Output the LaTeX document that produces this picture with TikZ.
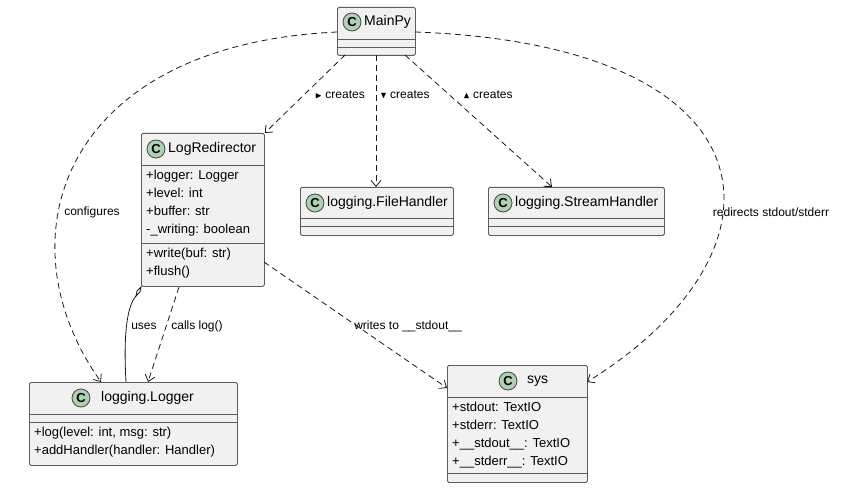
\documentclass[tikz,border=0pt]{standalone}
\usepackage{amssymb}
\usepackage{fontspec}
\setmainfont{Liberation Sans}
\usetikzlibrary{arrows.meta,calc}
\definecolor{boxfill}{HTML}{F1F1F1}
\definecolor{boxline}{HTML}{181818}
\definecolor{cfill}{HTML}{ADD1B2}
\tikzset{
  box/.style={draw=boxline!70, fill=boxfill, rounded corners=1.5pt, line width=0.8pt, anchor=north west, inner sep=0pt},
  sep/.style={draw=boxline!70, line width=0.8pt},
  circ/.style={circle, draw=boxline!80, fill=cfill, minimum size=18pt, inner sep=0pt, font=\fontsize{13}{13}\selectfont\bfseries, line width=0.8pt},
  title/.style={anchor=west, inner sep=0pt, font=\fontsize{14}{16}\selectfont},
  mem/.style={anchor=north west, inner sep=0pt, align=left, font=\fontsize{13}{18}\selectfont},
  dep/.style={dash pattern=on 6pt off 4pt, line width=0.8pt, draw=boxline, -{Straight Barb[length=6pt,width=10pt]}},
  lab/.style={font=\fontsize{12}{14}\selectfont, inner sep=1pt},
}
\begin{document}
\begin{tikzpicture}[x=1pt,y=-1pt]
\useasboundingbox (0,0) rectangle (843,489);
% MainPy
\node[box, minimum width=78pt, minimum height=48pt] (main) at (337,7) {};
\draw[sep] (337,39) -- (415,39) (337,47) -- (415,47);
\node[circ] (mainc) at (352,22) {C};
\node[title] (maint) at (364,22) {MainPy};
% LogRedirector
\node[box, minimum width=123pt, minimum height=153pt] (lr) at (141,133) {};
\draw[sep] (141,165) -- (264,165) (141,243) -- (264,243);
\node[circ] (lrc) at (156,149) {C};
\node[title] (lrt) at (168,149) {LogRedirector};
\node[mem] (lra) at (146,170) {+logger: Logger\\+level: int\\+buffer: str\\-\_writing: boolean};
\node[mem] (lrm) at (146,248) {+write(buf: str)\\+flush()};
% FileHandler
\node[box, minimum width=153pt, minimum height=48pt] (fh) at (300,187) {};
\draw[sep] (300,218) -- (453,218) (300,226) -- (453,226);
\node[circ] (fhc) at (315,203) {C};
\node[title] (fht) at (327,203) {logging.FileHandler};
% StreamHandler
\node[box, minimum width=176pt, minimum height=48pt] (sh) at (488,187) {};
\draw[sep] (488,218) -- (664,218) (488,226) -- (664,226);
\node[circ] (shc) at (503,203) {C};
\node[title] (sht) at (515,203) {logging.StreamHandler};
% Logger
\node[box, minimum width=208pt, minimum height=83pt] (lg) at (29,382) {};
\draw[sep] (29,414) -- (237,414) (29,422) -- (237,422);
\node[circ] (lgc) at (81,398) {C};
\node[title] (lgt) at (101,398) {logging.Logger};
\node[mem] (lgm) at (34,427) {+log(level: int, msg: str)\\+addHandler(handler: Handler)};
% sys
\node[box, minimum width=140pt, minimum height=117pt] (sys) at (447,365) {};
\draw[sep] (447,397) -- (587,397) (447,473) -- (587,473);
\node[circ] (sysc) at (508,381) {C};
\node[title] (syst) at (527,381) {sys};
\node[mem] (sysa) at (452,402) {+stdout: TextIO\\+stderr: TextIO\\+\_\_stdout\_\_: TextIO\\+\_\_stderr\_\_: TextIO};
% edges
\coordinate (m1) at (345,55);
\coordinate (m2) at (376,55);
\coordinate (m3) at (405,55);
\coordinate (mL) at (337,32);
\coordinate (mR) at (415,32);
\draw[dep] (m1) -- (lr.north east);
\node[lab] (l1) at (340,95) {{\fontsize{9}{9}\selectfont$\blacktriangleright$} creates};
\draw[dep] (m2) -- (376,187);
\node[lab] (l2) at (405,95) {{\fontsize{9}{9}\selectfont$\blacktriangledown$} creates};
\draw[dep] (m3) -- (552,187);
\node[lab] (l3) at (488,95) {{\fontsize{9}{9}\selectfont$\blacktriangle$} creates};
\draw[dep] (mL) .. controls (60,45) and (0,240) .. (101,382);
\node[lab] (l4) at (92,212) {configures};
\draw[dep] (mR) .. controls (780,45) and (800,250) .. (587,382);
\node[lab] (l5) at (771,212) {redirects stdout/stderr};
\coordinate (lrd) at (141,287);
\draw[line width=0.8pt, draw=boxline] (126,382) .. controls (123,330) and (128,305) .. (136,296);
\draw[line width=0.8pt, draw=boxline, fill=white] (lrd) -- ++(-1,5) -- ++(-4,4) -- ++(1,-5) -- cycle;
\node[lab] (l6) at (144,326) {uses};
\coordinate (lrb) at (179,287);
\draw[dep] (lrb) -- (148,382);
\node[lab] (l7) at (197,326) {calls log()};
\coordinate (lrr) at (264,262);
\draw[dep] (lrr) -- (447,388);
\node[lab] (l8) at (408,326) {writes to \_\_stdout\_\_};
\end{tikzpicture}
\end{document}
